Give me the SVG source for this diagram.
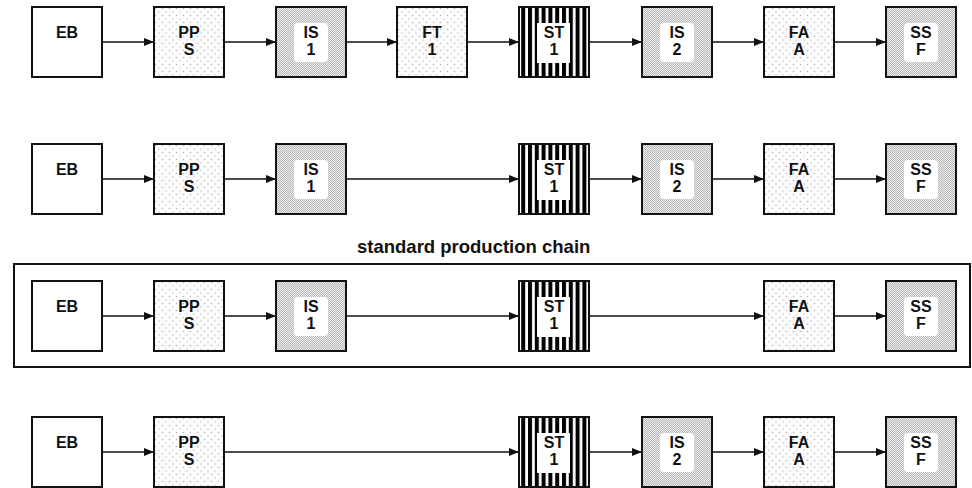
<svg xmlns="http://www.w3.org/2000/svg" width="972" height="488" viewBox="0 0 972 488">
<style>
.box{stroke:#111;stroke-width:2}
.t{font-family:"Liberation Sans",Arial,sans-serif;font-weight:bold;font-size:16px;text-anchor:middle;fill:#111}
.lbl{font-family:"Liberation Sans",Arial,sans-serif;font-weight:bold;font-size:18.5px;fill:#111}
.ln{stroke:#111;stroke-width:1.6;fill:none}
.hole{fill:#fff}
</style>
<defs>
<pattern id="dots" patternUnits="userSpaceOnUse" width="7" height="7">
<rect width="7" height="7" fill="#fcfcfc"/>
<circle cx="1.5" cy="1.5" r="0.8" fill="#b8b8b8"/>
<circle cx="5" cy="5" r="0.8" fill="#c8c8c8"/>
</pattern>
<pattern id="check" patternUnits="userSpaceOnUse" width="2" height="2">
<rect width="2" height="2" fill="#ececec"/>
<rect width="1" height="1" fill="#b8b8b8"/>
<rect x="1" y="1" width="1" height="1" fill="#b8b8b8"/>
</pattern>
<pattern id="stripe" patternUnits="userSpaceOnUse" width="6.8" height="10" x="519">
<rect width="6.8" height="10" fill="#fff"/>
<rect x="0" width="4" height="10" fill="#000"/>
</pattern>
<marker id="ah" viewBox="0 0 10 8" refX="10" refY="4" markerWidth="10" markerHeight="8" markerUnits="userSpaceOnUse" orient="auto">
<path d="M0,0 L10,4 L0,8 Z" fill="#111"/>
</marker>
<g id="EB"><rect class="box" width="70" height="70" fill="#fff"/><text class="t" x="35" y="31">EB</text></g>
<g id="PPS"><rect class="box" width="70" height="70" fill="url(#dots)"/><text class="t" x="35" y="31">PP</text><text class="t" x="35" y="48">S</text></g>
<g id="FT1"><rect class="box" width="70" height="70" fill="url(#dots)"/><text class="t" x="35" y="31">FT</text><text class="t" x="35" y="48">1</text></g>
<g id="FAA"><rect class="box" width="70" height="70" fill="url(#dots)"/><text class="t" x="35" y="31">FA</text><text class="t" x="35" y="48">A</text></g>
<g id="IS1"><rect class="box" width="70" height="70" fill="url(#check)"/><rect class="hole" x="18" y="16" width="34" height="39" rx="4"/><text class="t" x="35" y="31">IS</text><text class="t" x="35" y="48">1</text></g>
<g id="IS2"><rect class="box" width="70" height="70" fill="url(#check)"/><rect class="hole" x="18" y="16" width="34" height="39" rx="4"/><text class="t" x="35" y="31">IS</text><text class="t" x="35" y="48">2</text></g>
<g id="SSF"><rect class="box" width="70" height="70" fill="url(#check)"/><rect class="hole" x="18" y="16" width="34" height="39" rx="4"/><text class="t" x="35" y="31">SS</text><text class="t" x="35" y="48">F</text></g>
<g id="ST1"><rect class="box" width="70" height="70" fill="url(#stripe)"/><rect class="hole" x="18" y="16" width="33" height="40"/><text class="t" x="35" y="31">ST</text><text class="t" x="35" y="48">1</text></g>
</defs>

<rect x="14" y="264" width="956" height="103" fill="none" stroke="#111" stroke-width="2"/>
<text class="lbl" x="357" y="253">standard production chain</text>

<g id="connectors">
<line class="ln" x1="102" y1="42" x2="154" y2="42" marker-end="url(#ah)"/>
<line class="ln" x1="224" y1="42" x2="276" y2="42" marker-end="url(#ah)"/>
<line class="ln" x1="346" y1="42" x2="397" y2="42" marker-end="url(#ah)"/>
<line class="ln" x1="467" y1="42" x2="519" y2="42" marker-end="url(#ah)"/>
<line class="ln" x1="589" y1="42" x2="642" y2="42" marker-end="url(#ah)"/>
<line class="ln" x1="712" y1="42" x2="764" y2="42" marker-end="url(#ah)"/>
<line class="ln" x1="834" y1="42" x2="886" y2="42" marker-end="url(#ah)"/>
<line class="ln" x1="102" y1="179" x2="154" y2="179" marker-end="url(#ah)"/>
<line class="ln" x1="224" y1="179" x2="276" y2="179" marker-end="url(#ah)"/>
<line class="ln" x1="346" y1="179" x2="519" y2="179" marker-end="url(#ah)"/>
<line class="ln" x1="589" y1="179" x2="642" y2="179" marker-end="url(#ah)"/>
<line class="ln" x1="712" y1="179" x2="764" y2="179" marker-end="url(#ah)"/>
<line class="ln" x1="834" y1="179" x2="886" y2="179" marker-end="url(#ah)"/>
<line class="ln" x1="102" y1="316" x2="154" y2="316" marker-end="url(#ah)"/>
<line class="ln" x1="224" y1="316" x2="276" y2="316" marker-end="url(#ah)"/>
<line class="ln" x1="346" y1="316" x2="519" y2="316" marker-end="url(#ah)"/>
<line class="ln" x1="589" y1="316" x2="764" y2="316" marker-end="url(#ah)"/>
<line class="ln" x1="834" y1="316" x2="886" y2="316" marker-end="url(#ah)"/>
<line class="ln" x1="102" y1="452" x2="154" y2="452" marker-end="url(#ah)"/>
<line class="ln" x1="224" y1="452" x2="519" y2="452" marker-end="url(#ah)"/>
<line class="ln" x1="589" y1="452" x2="642" y2="452" marker-end="url(#ah)"/>
<line class="ln" x1="712" y1="452" x2="764" y2="452" marker-end="url(#ah)"/>
<line class="ln" x1="834" y1="452" x2="886" y2="452" marker-end="url(#ah)"/>
</g>

<g id="row1">
<use id="r1-EB" href="#EB" x="32" y="7"/>
<use id="r1-PPS" href="#PPS" x="154" y="7"/>
<use id="r1-IS1" href="#IS1" x="276" y="7"/>
<use id="r1-FT1" href="#FT1" x="397" y="7"/>
<use id="r1-ST1" href="#ST1" x="519" y="7"/>
<use id="r1-IS2" href="#IS2" x="642" y="7"/>
<use id="r1-FAA" href="#FAA" x="764" y="7"/>
<use id="r1-SSF" href="#SSF" x="886" y="7"/>
</g>
<g id="row2">
<use id="r2-EB" href="#EB" x="32" y="144"/>
<use id="r2-PPS" href="#PPS" x="154" y="144"/>
<use id="r2-IS1" href="#IS1" x="276" y="144"/>
<use id="r2-ST1" href="#ST1" x="519" y="144"/>
<use id="r2-IS2" href="#IS2" x="642" y="144"/>
<use id="r2-FAA" href="#FAA" x="764" y="144"/>
<use id="r2-SSF" href="#SSF" x="886" y="144"/>
</g>
<g id="row3">
<use id="r3-EB" href="#EB" x="32" y="281"/>
<use id="r3-PPS" href="#PPS" x="154" y="281"/>
<use id="r3-IS1" href="#IS1" x="276" y="281"/>
<use id="r3-ST1" href="#ST1" x="519" y="281"/>
<use id="r3-FAA" href="#FAA" x="764" y="281"/>
<use id="r3-SSF" href="#SSF" x="886" y="281"/>
</g>
<g id="row4">
<use id="r4-EB" href="#EB" x="32" y="417"/>
<use id="r4-PPS" href="#PPS" x="154" y="417"/>
<use id="r4-ST1" href="#ST1" x="519" y="417"/>
<use id="r4-IS2" href="#IS2" x="642" y="417"/>
<use id="r4-FAA" href="#FAA" x="764" y="417"/>
<use id="r4-SSF" href="#SSF" x="886" y="417"/>
</g>
</svg>
